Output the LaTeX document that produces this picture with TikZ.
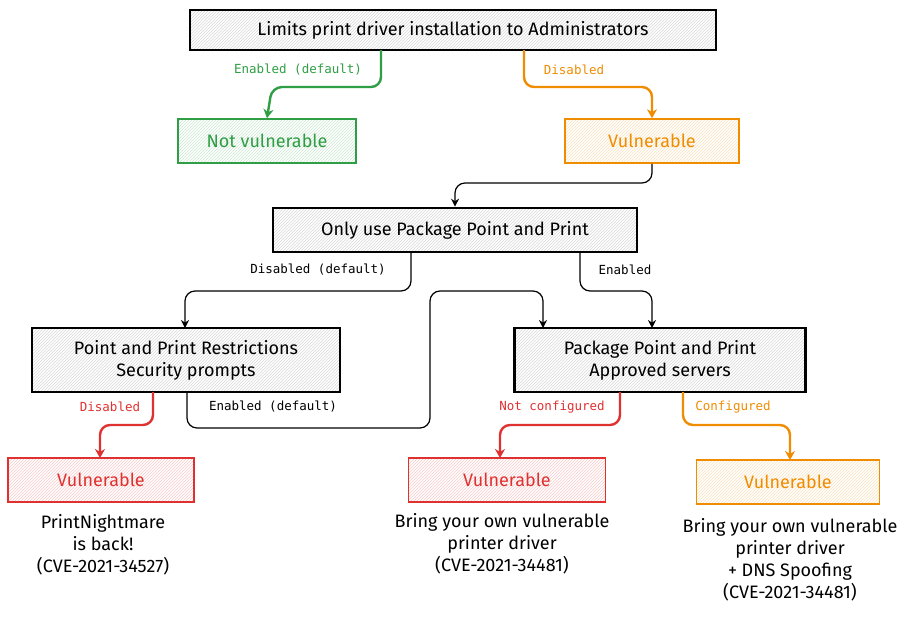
\documentclass[tikz,border=0pt]{standalone}
\usepackage{fontspec}
\setmainfont{Fira Sans}
\newfontfamily\monof{DejaVu Sans Mono}
\usetikzlibrary{patterns,arrows.meta}
\definecolor{cg}{HTML}{2F9E44}
\definecolor{co}{HTML}{F08C00}
\definecolor{cr}{HTML}{E03131}
\begin{document}
\begin{tikzpicture}[x=1pt,y=-1pt,
  box/.style={draw=#1,line width=1.6pt,pattern=north east lines,pattern color=#1!25,font=\fontsize{18}{22}\selectfont,text=#1,align=center},
  bbox/.style={draw=black,line width=2.6pt,pattern=north east lines,pattern color=black!15,font=\fontsize{18}{22}\selectfont,align=center},
  lab/.style={font=\monof\fontsize{12.5}{14}\selectfont,text=#1},
  note/.style={font=\fontsize{18}{22}\selectfont,align=center}]
\useasboundingbox (0,0) rectangle (923,621);
\path[fill=white] (0,0) rectangle (923,621);
\node[bbox,minimum width=526,minimum height=40] (top) at (453,30) {Limits print driver installation to Administrators};
\node[box=cg,minimum width=178,minimum height=44] (nv) at (267,141) {Not vulnerable};
\node[box=co,minimum width=174,minimum height=44] (v1) at (652,141) {Vulnerable};
\node[bbox,minimum width=364,minimum height=44] (pk) at (455,230) {Only use Package Point and Print};
\node[bbox,minimum width=308,minimum height=64] (pr) at (186,360) {Point and Print Restrictions\\Security prompts};
\node[bbox,minimum width=291,minimum height=64] (pp) at (660,360) {Package Point and Print\\Approved servers};
\node[box=cr,minimum width=186,minimum height=44] (v2) at (101,480) {Vulnerable};
\node[box=cr,minimum width=197,minimum height=44] (v3) at (507,480) {Vulnerable};
\node[box=co,minimum width=183,minimum height=44] (v4) at (788,482) {Vulnerable};
\node[note] (t2) at (103,545) {PrintNightmare\\is back!\\(CVE-2021-34527)};
\node[note] (t3) at (502,544) {Bring your own vulnerable\\printer driver\\(CVE-2021-34481)};
\node[note] (t4) at (790,560) {Bring your own vulnerable\\printer driver\\+ DNS Spoofing\\(CVE-2021-34481)};
\coordinate (a1) at (381,50); \coordinate (a2) at (524,50);
\draw[cg,line width=2.4pt,rounded corners=10pt,-{Stealth[length=9pt,width=10pt]}] (a1) -- (381,87) -- (272,87) -- (nv.north);
\draw[co,line width=2.4pt,rounded corners=10pt,-{Stealth[length=9pt,width=10pt]}] (a2) -- (524,87) -- (652,87) -- (v1.north);
\draw[black,line width=1.2pt,rounded corners=10pt,-{Stealth[length=8pt,width=8pt]}] (v1.south) -- (652,183) -- (455,183) -- (pk.north);
\coordinate (b1) at (411,252); \coordinate (b2) at (580,252);
\draw[black,line width=1.2pt,rounded corners=10pt,-{Stealth[length=8pt,width=8pt]}] (b1) -- (411,291) -- (185,291) -- (185,328);
\draw[black,line width=1.2pt,rounded corners=10pt,-{Stealth[length=8pt,width=8pt]}] (b2) -- (580,291) -- (652,291) -- (652,328);
\coordinate (c1) at (187,392);
\draw[black,line width=1.2pt,rounded corners=10pt,-{Stealth[length=8pt,width=8pt]}] (c1) -- (187,428) -- (430,428) -- (430,291) -- (543,291) -- (543,328);
\coordinate (d1) at (153,392); \coordinate (d2) at (620,392); \coordinate (d3) at (683,392);
\draw[cr,line width=2.4pt,rounded corners=10pt,-{Stealth[length=9pt,width=10pt]}] (d1) -- (153,425) -- (100,425) -- (100,458);
\draw[cr,line width=2.4pt,rounded corners=10pt,-{Stealth[length=9pt,width=10pt]}] (d2) -- (620,425) -- (500,425) -- (500,458);
\draw[co,line width=2.4pt,rounded corners=10pt,-{Stealth[length=9pt,width=10pt]}] (d3) -- (683,425) -- (790,425) -- (790,460);
\node[lab=cg] at (298,70) {Enabled (default)};
\node[lab=co] at (574,70) {Disabled};
\node[lab=black] at (318,270) {Disabled (default)};
\node[lab=black] at (625,270) {Enabled};
\node[lab=cr] at (110,407) {Disabled};
\node[lab=black] at (273,407) {Enabled (default)};
\node[lab=cr] at (552,407) {Not configured};
\node[lab=co] at (733,407) {Configured};
\end{tikzpicture}
\end{document}
